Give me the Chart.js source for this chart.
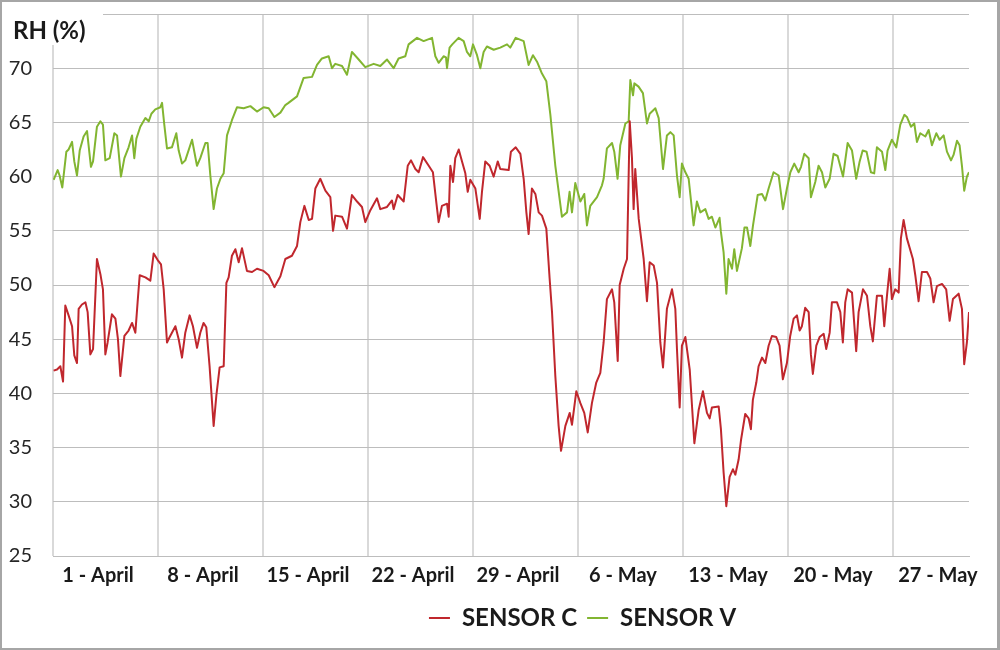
<!DOCTYPE html>
<html>
<head>
<meta charset="utf-8">
<title>RH sensors</title>
<script src="https://cdn.jsdelivr.net/npm/chart.js@4.4.1/dist/chart.umd.min.js"></script>
<style>
  html, body { margin: 0; padding: 0; background: #fff; }
  #wrap { position: relative; width: 1000px; height: 650px; }
  #frame {
    position: absolute; left: 0; top: 0; width: 1000px; height: 650px;
    box-sizing: border-box; border: 2px solid #a6a6a6; border-right-width: 3px;
    pointer-events: none;
  }
</style>
</head>
<body>
<div id="wrap">
  <canvas id="rhChart" width="1000" height="650"></canvas>
  <div id="frame"></div>
</div>
<script>
// time in days since the first reading, RH in %
const daysC = [0.04,0.27,0.49,0.67,0.82,1.04,1.27,1.42,1.6,1.71,1.93,2.16,2.31,2.49,2.67,2.93,3.16,3.33,3.49,3.64,3.93,4.16,4.33,4.49,4.76,5.04,5.27,5.49,5.64,5.78,6.16,6.49,6.71,6.98,7.2,7.38,7.6,7.78,7.93,8.16,8.38,8.6,8.82,9.11,9.33,9.6,9.82,10.04,10.22,10.44,10.71,10.89,11.11,11.38,11.56,11.71,11.93,12.16,12.38,12.6,12.93,13.27,13.6,14.04,14.38,14.76,15.16,15.49,15.93,16.27,16.49,16.76,17.05,17.27,17.49,17.82,18.16,18.49,18.67,18.82,19.27,19.6,19.93,20.27,20.6,20.82,21.16,21.6,21.82,22.27,22.6,22.71,22.98,23.38,23.65,23.87,24.16,24.38,24.67,25.05,25.33,25.55,25.71,25.93,26.27,26.38,26.49,26.67,26.82,27.05,27.27,27.49,27.65,27.82,28.16,28.45,28.6,28.82,29.11,29.38,29.65,29.82,30.38,30.53,30.85,31.16,31.38,31.56,31.71,31.93,32.16,32.38,32.6,32.89,33.11,33.27,33.49,33.71,33.87,34.16,34.45,34.6,34.89,35.16,35.42,35.65,35.93,36.22,36.49,36.71,36.93,37.27,37.42,37.65,37.78,38.05,38.27,38.45,38.6,38.71,38.82,39.05,39.38,39.6,39.78,40.05,40.27,40.49,40.67,40.93,41.27,41.49,41.6,41.78,41.93,42.16,42.45,42.76,43.05,43.33,43.6,43.78,43.93,44.38,44.53,44.71,44.89,45.11,45.33,45.49,45.71,45.87,46.15,46.38,46.53,46.66,46.89,47.04,47.27,47.49,47.71,47.93,48.22,48.44,48.66,48.93,49.15,49.38,49.6,49.78,49.93,50.15,50.38,50.53,50.66,50.89,51.11,51.38,51.55,51.78,51.93,52.27,52.49,52.66,52.82,52.98,53.27,53.55,53.71,54.0,54.27,54.49,54.66,54.93,55.27,55.42,55.6,55.78,55.93,56.15,56.38,56.53,56.71,56.93,57.33,57.49,57.71,57.93,58.27,58.49,58.71,58.93,59.27,59.55,59.78,60.0,60.38,60.6,60.75,60.93,61.07];
const rhC = [42.1,42.2,42.5,41.1,48.1,47.2,46.2,43.5,42.8,47.8,48.2,48.4,47.5,43.6,44.1,52.4,51.0,49.6,43.6,44.7,47.3,46.9,45.0,41.6,45.3,45.8,46.5,45.6,48.4,50.9,50.7,50.4,52.9,52.3,51.9,49.6,44.7,45.2,45.6,46.2,45.0,43.3,45.6,47.2,46.2,44.2,45.6,46.5,46.1,42.5,37.0,39.8,42.4,42.5,50.2,50.7,52.7,53.3,52.1,53.4,51.3,51.2,51.5,51.3,50.9,49.8,50.8,52.4,52.7,53.6,55.8,57.3,56.0,56.1,58.9,59.8,58.7,58.1,55.0,56.4,56.3,55.2,58.3,57.7,57.2,55.8,56.9,58.0,57.0,57.2,57.8,57.0,58.3,57.7,61.0,61.5,60.7,60.4,61.8,61.0,60.4,57.7,55.8,57.3,57.5,56.3,61.0,59.5,61.7,62.5,61.4,60.3,58.6,59.7,58.9,56.1,58.6,61.4,61.0,60.0,61.4,60.7,60.6,62.3,62.7,62.1,59.8,56.7,54.7,58.9,58.4,56.7,56.4,55.2,50.6,47.5,41.6,37.0,34.7,37.0,38.2,37.1,40.2,39.1,38.2,36.4,39.1,41.0,41.9,44.7,48.7,49.6,48.4,43.0,50.0,51.5,52.4,65.1,61.7,57.0,60.7,56.1,52.4,48.5,52.1,51.8,50.2,44.7,42.4,47.8,49.6,47.8,44.1,38.7,44.4,45.2,42.2,35.4,38.5,40.2,38.2,37.7,38.7,38.8,36.7,32.7,29.6,32.3,33.0,32.5,33.9,35.7,38.1,37.7,36.7,39.4,41.0,42.5,43.3,42.8,44.4,45.3,45.2,44.4,41.3,42.8,45.3,46.9,47.2,45.8,46.2,47.9,47.5,43.6,41.8,44.4,45.2,45.5,44.1,45.6,48.4,48.4,47.5,44.7,48.4,49.6,49.3,43.9,47.5,49.6,49.0,46.2,44.8,49.0,49.0,46.2,49.0,51.5,48.7,49.6,49.3,54.3,56.0,54.3,52.4,50.9,48.5,51.2,51.2,50.6,48.4,49.9,50.1,49.6,46.7,48.7,49.2,47.8,42.7,44.7,47.5];

const daysV = [0.04,0.31,0.44,0.62,0.89,1.04,1.27,1.42,1.6,1.78,2.04,2.27,2.53,2.67,2.93,3.16,3.33,3.49,3.78,4.09,4.27,4.53,4.76,5.04,5.27,5.42,5.56,5.82,6.16,6.38,6.56,6.82,7.16,7.27,7.42,7.6,7.93,8.22,8.38,8.6,8.82,9.27,9.6,9.82,10.16,10.31,10.49,10.71,10.93,11.16,11.38,11.6,11.93,12.27,12.71,13.16,13.6,14.04,14.38,14.76,15.16,15.49,15.7,16.27,16.71,17.27,17.6,17.93,18.38,18.6,18.82,19.27,19.6,19.93,20.38,20.82,21.38,21.82,22.27,22.71,23.04,23.49,23.71,24.27,24.71,25.27,25.49,25.71,26.04,26.2,26.27,26.44,26.62,27.04,27.38,27.6,27.82,28.0,28.27,28.49,28.71,28.93,29.38,29.82,30.27,30.49,30.85,31.38,31.71,32.0,32.27,32.6,32.89,33.16,33.49,33.93,34.27,34.44,34.6,34.82,35.16,35.42,35.6,35.82,36.27,36.6,36.71,36.93,37.27,37.42,37.64,37.82,38.16,38.38,38.49,38.67,38.76,39.04,39.33,39.6,39.78,40.16,40.38,40.67,40.93,41.16,41.38,41.6,41.78,41.93,42.16,42.38,42.71,42.93,43.16,43.49,43.71,43.93,44.16,44.44,44.53,44.71,44.89,45.04,45.27,45.42,45.6,45.93,46.1,46.27,46.49,46.67,46.98,47.27,47.49,47.71,48.04,48.38,48.67,48.93,49.16,49.42,49.71,49.87,50.09,50.38,50.53,50.82,51.04,51.27,51.49,51.78,52.04,52.31,52.67,52.98,53.27,53.55,53.78,53.98,54.24,54.53,54.75,54.93,55.27,55.49,55.64,55.93,56.22,56.49,56.76,56.93,57.2,57.42,57.6,57.82,58.16,58.38,58.6,58.89,59.11,59.38,59.6,59.87,60.04,60.27,60.44,60.6,60.75,60.93,61.07];
const rhV = [59.7,60.6,60.1,59.0,62.3,62.5,63.2,61.4,60.1,62.4,63.7,64.2,60.9,61.4,64.6,65.1,64.8,61.5,61.7,64.0,63.8,60.0,61.7,62.7,63.8,61.7,63.5,64.6,65.4,65.1,65.8,66.2,66.4,66.8,64.8,62.6,62.7,64.0,62.4,61.2,61.5,63.4,61.0,61.7,63.1,63.1,60.1,57.0,58.9,59.8,60.3,63.8,65.2,66.4,66.3,66.5,66.0,66.4,66.3,65.5,65.9,66.6,66.8,67.4,69.1,69.2,70.3,70.9,71.1,70.0,70.4,70.2,69.4,71.5,70.8,70.1,70.4,70.2,70.8,70.0,70.9,71.1,72.2,72.8,72.5,72.8,71.1,70.5,71.1,71.0,70.0,71.9,72.2,72.8,72.5,71.5,71.1,72.2,71.2,70.0,71.5,72.0,71.7,71.9,72.2,71.9,72.8,72.5,70.3,71.2,70.6,69.5,68.8,65.7,61.0,56.3,56.7,58.6,56.7,59.4,57.7,58.4,55.5,57.3,58.1,59.2,59.8,62.6,63.1,62.3,59.8,62.9,64.9,65.1,68.9,67.5,68.6,68.3,67.7,64.9,65.8,66.3,65.4,60.7,63.8,64.1,63.8,60.1,58.1,61.2,60.4,59.8,55.5,57.7,56.7,57.0,56.1,56.3,55.3,56.2,54.9,53.0,49.2,52.4,51.5,53.3,51.3,53.4,55.3,55.3,53.6,55.5,58.3,58.4,57.8,58.9,60.4,60.1,57.0,58.9,60.4,61.2,60.4,60.9,62.1,61.7,58.1,59.5,61.0,60.4,59.0,59.8,62.1,61.9,60.0,63.1,62.4,59.8,61.4,62.4,62.3,60.4,60.3,62.7,62.3,60.6,62.4,63.4,62.7,64.8,65.7,65.5,64.6,64.9,63.2,64.0,63.7,64.3,62.9,64.0,63.4,63.8,62.3,61.5,62.0,63.3,62.9,61.0,58.7,60.0,60.4];

// one vertical gridline per week, label sits inside the week
const weekStarts = [0, 7, 14, 21, 28, 35, 42, 49, 56];
const weekLabels = ['1 - April', '8 - April', '15 - April', '22 - April', '29 - April', '6 - May', '13 - May', '20 - May', '27 - May'];
const yTicks = [25, 30, 35, 40, 45, 50, 55, 60, 65, 70, 75];

const seriesNames = ['SENSOR C', 'SENSOR V'];
const seriesColors = ['#c0272d', '#82b531'];

function toPoints(days, values) {
    return days.map((d, i) => ({ x: d, y: values[i] }));
}

const axisTitle = {
    id: 'axisTitle',
    afterDraw(chart) {
        const ctx = chart.ctx;
        ctx.save();
        ctx.fillStyle = '#ffffff';
        ctx.fillRect(0, 0, 103, 45);
        ctx.fillStyle = '#1a1a1a';
        ctx.font = 'bold 24px Lato';
        ctx.textBaseline = 'middle';
        ctx.fillText('RH (%)', 13, 31);
        ctx.restore();
    }
};

// legend sits right of centre in the original
const legendShift = {
    id: 'legendShift',
    afterLayout(chart) {
        chart.legend.left += 98;
        chart.legend.right += 98;
    }
};

new Chart(document.getElementById('rhChart'), {
    type: 'line',
    data: {
        datasets: [{
            label: seriesNames[0],
            data: toPoints(daysC, rhC),
            borderColor: seriesColors[0],
            backgroundColor: seriesColors[0],
            borderWidth: 2,
            pointRadius: 0,
            borderJoinStyle: 'round'
        }, {
            label: seriesNames[1],
            data: toPoints(daysV, rhV),
            borderColor: seriesColors[1],
            backgroundColor: seriesColors[1],
            borderWidth: 2,
            pointRadius: 0,
            borderJoinStyle: 'round'
        }]
    },
    options: {
        responsive: false,
        animation: false,
        layout: { padding: { top: 14, right: 31, left: 0, bottom: 10 } },
        plugins: {
            tooltip: { enabled: false },
            legend: {
                position: 'bottom',
                labels: {
                    usePointStyle: true,
                    pointStyle: 'line',
                    pointStyleWidth: 21,
                    padding: 10,
                    color: '#1a1a1a',
                    font: { family: 'Lato', size: 24, weight: 'bold' }
                }
            }
        },
        scales: {
            x: {
                type: 'linear',
                min: 0,
                max: 61.07,
                afterBuildTicks: axis => { axis.ticks = weekStarts.map(v => ({ value: v })); },
                afterFit: axis => { axis.height = 40; },
                grid: { color: '#d9d9d9', lineWidth: 2, drawTicks: false },
                border: { color: '#bdbdbd', width: 1 },
                ticks: {
                    autoSkip: false,
                    maxRotation: 0,
                    padding: 8,
                    labelOffset: 45,
                    color: '#1a1a1a',
                    font: { family: 'Lato', size: 20, weight: 'bold' },
                    callback: (value, index) => weekLabels[index]
                }
            },
            y: {
                min: 25,
                max: 75,
                afterBuildTicks: axis => { axis.ticks = yTicks.map(v => ({ value: v })); },
                afterFit: axis => {
                    axis.width = 53;
                    axis.paddingTop = 0;
                    axis.paddingBottom = 0;
                },
                grid: { color: '#bdbdbd', lineWidth: 1, drawTicks: false },
                border: { display: false },
                ticks: {
                    padding: 21,
                    color: '#262626',
                    font: { family: 'Lato', size: 20 },
                    callback: v => (v === 75 ? '' : v)
                }
            }
        }
    },
    plugins: [axisTitle, legendShift]
});
</script>
</body>
</html>
